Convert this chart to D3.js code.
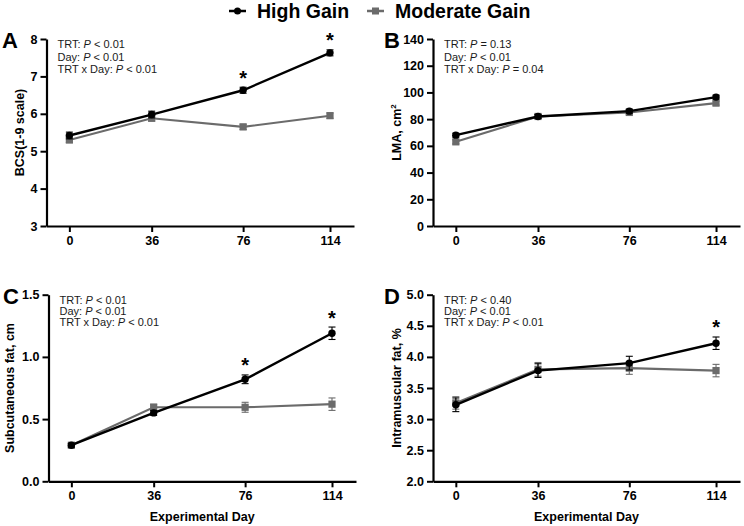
<!DOCTYPE html>
<html>
<head>
<meta charset="utf-8">
<script src="https://cdn.jsdelivr.net/npm/d3@7"></script>
<style>
  body { margin: 0; background: #fff; }
  svg { display: block; font-family: "Liberation Sans", Arial, sans-serif; }
</style>
</head>
<body>
<div id="chart"></div>
<script>
// Experimental days (x values)
const days = [0, 36, 76, 114];

// A: body condition score
const bcsHigh = [5.42, 5.98, 6.63, 7.63];
const bcsHighSE = [0.09, 0.09, 0.08, 0.08];
const bcsMod = [5.30, 5.88, 5.65, 5.95];
const bcsModSE = [0.07, 0.07, 0.07, 0.07];
const bcsStars = [76, 114];

// B: loin muscle area
const lmaHigh = [68, 82, 86, 96.5];
const lmaHighSE = [1.5, 1.5, 1.5, 1.5];
const lmaMod = [63, 82, 85, 92];
const lmaModSE = [1.5, 1.5, 1.5, 1.5];
const lmaStars = [];

// C: subcutaneous fat
const subHigh = [0.29, 0.55, 0.82, 1.19];
const subHighSE = [0.015, 0.02, 0.035, 0.05];
const subMod = [0.29, 0.595, 0.595, 0.62];
const subModSE = [0.015, 0.025, 0.04, 0.05];
const subStars = [76, 114];

// D: intramuscular fat
const imfHigh = [3.23, 3.78, 3.90, 4.22];
const imfHighSE = [0.11, 0.11, 0.11, 0.10];
const imfMod = [3.26, 3.80, 3.82, 3.78];
const imfModSE = [0.10, 0.11, 0.10, 0.10];
const imfStars = [114];

const xTicks = [0, 36, 76, 114];
const legendLabels = ["High Gain", "Moderate Gain"];

const colHigh = "#000000";
const colMod = "#6b6b6b";

const svg = d3.select("#chart").append("svg")
    .attr("width", 744)
    .attr("height", 526);

// Legend
const legend = svg.append("g");
[
    { label: legendLabels[0], color: colHigh, shape: "circle", x: 229, tx: 257 },
    { label: legendLabels[1], color: colMod, shape: "square", x: 367, tx: 395 }
].forEach(d => {
    legend.append("line")
        .attr("x1", d.x).attr("x2", d.x + 17)
        .attr("y1", 11).attr("y2", 11)
        .attr("stroke", d.color).attr("stroke-width", 2.5);
    if (d.shape === "circle") {
        legend.append("circle").attr("cx", d.x + 8.5).attr("cy", 11).attr("r", 3.5).attr("fill", d.color);
    } else {
        legend.append("rect").attr("x", d.x + 5).attr("y", 7.5).attr("width", 7).attr("height", 7).attr("fill", d.color);
    }
    legend.append("text")
        .attr("x", d.tx).attr("y", 18)
        .attr("font-size", "19.5px").attr("font-weight", "bold")
        .attr("fill", "#000")
        .text(d.label);
});

function drawPanel(cfg) {
    const g = svg.append("g");

    const x = d3.scaleLinear().domain([-10, 124.5]).range([cfg.left, cfg.right]);
    const y = d3.scaleLinear().domain(cfg.yDomain).range([cfg.bottom, cfg.top]);

    // Axes
    const xAxis = g.append("g")
        .attr("transform", `translate(0,${cfg.bottom})`)
        .call(d3.axisBottom(x).tickValues(xTicks).tickSize(6).tickPadding(4).tickSizeOuter(0));
    const yAxis = g.append("g")
        .attr("transform", `translate(${cfg.left},0)`)
        .call(d3.axisLeft(y).tickValues(cfg.yTicks).tickFormat(cfg.fmt).tickSize(6).tickPadding(3).tickSizeOuter(0));

    [xAxis, yAxis].forEach(a => {
        a.select(".domain").attr("stroke", "#000").attr("stroke-width", 2.2);
        a.selectAll(".tick line").attr("stroke", "#000").attr("stroke-width", 2);
        a.selectAll(".tick text")
            .attr("fill", "#000")
            .attr("font-size", "12.5px")
            .attr("font-weight", "bold")
            .attr("font-family", "Liberation Sans, Arial, sans-serif");
    });

    // Panel letter
    g.append("text")
        .attr("x", cfg.letterX).attr("y", cfg.top + 9)
        .attr("font-size", "22px").attr("font-weight", "bold")
        .text(cfg.letter);

    // Y title
    const yt = g.append("text")
        .attr("transform", `translate(${cfg.yTitleX},${(cfg.top + cfg.bottom) / 2}) rotate(-90)`)
        .attr("text-anchor", "middle")
        .attr("font-size", "12.5px").attr("font-weight", "bold");
    yt.append("tspan").text(cfg.yTitle);
    if (cfg.ySup) yt.append("tspan").attr("font-size", "8px").attr("dy", -5).text(cfg.ySup);

    // X title
    if (cfg.xTitle) {
        g.append("text")
            .attr("x", (cfg.left + cfg.right) / 2).attr("y", cfg.bottom + 40)
            .attr("text-anchor", "middle")
            .attr("font-size", "12.5px").attr("font-weight", "bold")
            .text(cfg.xTitle);
    }

    // Stats text
    cfg.stats.forEach((s, i) => {
        const t = g.append("text")
            .attr("x", cfg.left + 11)
            .attr("y", cfg.top + 9 + i * cfg.statGap)
            .attr("font-size", "11px").attr("fill", "#1a1a1a");
        t.append("tspan").text(s[0]);
        t.append("tspan").attr("font-style", "italic").text("P");
        t.append("tspan").text(s[1]);
    });

    const series = [
        { vals: cfg.mod, se: cfg.modSE, color: colMod, shape: "square" },
        { vals: cfg.high, se: cfg.highSE, color: colHigh, shape: "circle" }
    ];

    series.forEach(s => {
        const pts = days.map((d, i) => ({ d, v: s.vals[i], e: s.se[i] }));
        // error bars
        const eb = g.append("g").attr("stroke", s.color).attr("stroke-width", 1.1);
        pts.forEach(p => {
            eb.append("line").attr("x1", x(p.d)).attr("x2", x(p.d)).attr("y1", y(p.v - p.e)).attr("y2", y(p.v + p.e));
            eb.append("line").attr("x1", x(p.d) - 3.5).attr("x2", x(p.d) + 3.5).attr("y1", y(p.v - p.e)).attr("y2", y(p.v - p.e));
            eb.append("line").attr("x1", x(p.d) - 3.5).attr("x2", x(p.d) + 3.5).attr("y1", y(p.v + p.e)).attr("y2", y(p.v + p.e));
        });
        g.append("path")
            .datum(pts)
            .attr("fill", "none")
            .attr("stroke", s.color)
            .attr("stroke-width", s.shape === "circle" ? 2.4 : 2.1)
            .attr("d", d3.line().x(p => x(p.d)).y(p => y(p.v)));
        if (s.shape === "circle") {
            g.selectAll(null).data(pts).join("circle")
                .attr("cx", p => x(p.d)).attr("cy", p => y(p.v)).attr("r", 3.7)
                .attr("fill", s.color);
        } else {
            g.selectAll(null).data(pts).join("rect")
                .attr("x", p => x(p.d) - 3.6).attr("y", p => y(p.v) - 3.6)
                .attr("width", 7.2).attr("height", 7.2)
                .attr("fill", s.color);
        }
    });

    // Significance asterisks
    cfg.stars.forEach(d => {
        const i = days.indexOf(d);
        g.append("text")
            .attr("x", x(d)).attr("y", y(cfg.high[i] + cfg.highSE[i]) - 2.5)
            .attr("text-anchor", "middle")
            .attr("font-size", "20px").attr("font-weight", "bold")
            .text("*");
    });
}

drawPanel({
    letter: "A", letterX: 2, left: 46.5, right: 354, top: 39, bottom: 226,
    yDomain: [3, 8], yTicks: [3, 4, 5, 6, 7, 8], fmt: d3.format("d"),
    yTitle: "BCS(1-9 scale)", yTitleX: 24, statGap: 12.5,
    stats: [["TRT: ", " < 0.01"], ["Day: ", " < 0.01"], ["TRT x Day: ", " < 0.01"]],
    high: bcsHigh, highSE: bcsHighSE, mod: bcsMod, modSE: bcsModSE, stars: bcsStars
});

drawPanel({
    letter: "B", letterX: 384, left: 433, right: 740, top: 39, bottom: 226,
    yDomain: [0, 140], yTicks: [0, 20, 40, 60, 80, 100, 120, 140], fmt: d3.format("d"),
    yTitle: "LMA, cm", ySup: "2", yTitleX: 401, statGap: 12.5,
    stats: [["TRT: ", " = 0.13"], ["Day: ", " < 0.01"], ["TRT x Day: ", " = 0.04"]],
    high: lmaHigh, highSE: lmaHighSE, mod: lmaMod, modSE: lmaModSE, stars: lmaStars
});

drawPanel({
    letter: "C", letterX: 3, left: 48.5, right: 356, top: 294.7, bottom: 481.3,
    yDomain: [0, 1.5], yTicks: [0, 0.5, 1.0, 1.5], fmt: d3.format(".1f"),
    yTitle: "Subcutaneous fat, cm", yTitleX: 14, xTitle: "Experimental Day", statGap: 11.3,
    stats: [["TRT: ", " < 0.01"], ["Day: ", " < 0.01"], ["TRT x Day: ", " < 0.01"]],
    high: subHigh, highSE: subHighSE, mod: subMod, modSE: subModSE, stars: subStars
});

drawPanel({
    letter: "D", letterX: 384, left: 433, right: 740, top: 294.7, bottom: 481.3,
    yDomain: [2, 5], yTicks: [2, 2.5, 3, 3.5, 4, 4.5, 5], fmt: d3.format(".1f"),
    yTitle: "Intramuscular fat, %", yTitleX: 401, xTitle: "Experimental Day", statGap: 11.3,
    stats: [["TRT: ", " < 0.40"], ["Day: ", " < 0.01"], ["TRT x Day: ", " < 0.01"]],
    high: imfHigh, highSE: imfHighSE, mod: imfMod, modSE: imfModSE, stars: imfStars
});
</script>
</body>
</html>
